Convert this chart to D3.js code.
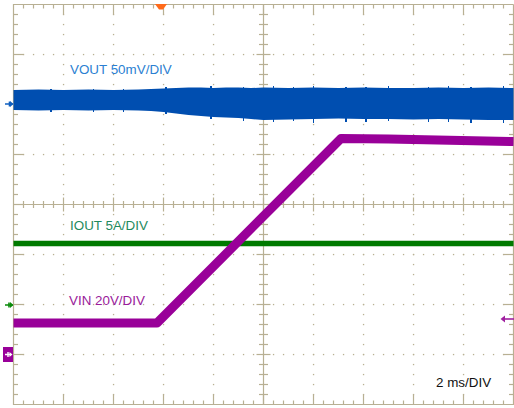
<!DOCTYPE html>
<html>
<head>
<meta charset="utf-8">
<script src="https://cdn.jsdelivr.net/npm/d3@7"></script>
<style>
  html, body { margin: 0; padding: 0; background: #ffffff; }
  svg { display: block; }
  text { font-family: "Liberation Sans", Arial, Helvetica, sans-serif; }
</style>
</head>
<body>
<svg id="chart" width="514" height="408"></svg>
<script>
// ---- data (read from the scope capture) ----
// time in ms from the left edge of the screen (2 ms/DIV, 10 divisions)
const vinTime   = [0, 5.74, 13.1, 15.0, 20];
const vinVolts  = [12.6, 12.6, 86.4, 86.2, 85.2];           // VIN, 20 V/DIV

const ioutTime  = [0, 20];
const ioutAmps  = [6.15, 6.15];                               // IOUT, 5 A/DIV

// VOUT ripple envelope (mV, 50 mV/DIV, AC ripple around its marker)
const voutTime  = [0, 1, 2, 3, 4, 5, 5.5, 6, 6.5, 7, 7.5, 8, 8.5, 9, 9.5, 10, 11, 12, 13, 14, 15, 16, 17, 18, 19, 20];
const voutHigh  = [14, 14.5, 14, 14.5, 14, 14.5, 15, 15.5, 16, 16.5, 16.5, 16, 16.5, 16.5, 16, 16.5, 16, 16.5, 16, 16.5, 16, 16, 16.5, 16, 16.5, 16];
const voutLow   = [-6, -6.5, -6, -6.5, -6, -6.5, -7, -8, -9.5, -11, -12, -13, -13.5, -14, -15, -16, -15.5, -15, -14.5, -15, -15, -15.5, -15, -15.5, -16, -16];

// occasional ripple peaks beyond the envelope (ms, mV)
const voutPeakTime = [1.5, 3.2, 4.4, 6.1, 7.9, 9.2, 10.4, 11.2, 12.0, 13.3, 14.1, 15.0, 16.6, 17.4, 18.3, 19.6];
const voutPeakLow  = [-7.5, -7.5, -8, -9.5, -15, -16.5, -18, -17, -18.5, -17.5, -18, -17, -18, -17.5, -18.5, -19];
const voutPeakHigh = [15.5, 15.5, 15.5, 17.5, 18, 17.5, 18.5, 17.5, 18, 17.5, 17.5, 18, 17.5, 18, 17.5, 18];

const timeDivs  = [0, 2, 4, 6, 8, 10, 12, 14, 16, 18, 20];    // ms grid lines
const vertDivs  = [0, 1, 2, 3, 4, 5, 6, 7, 8];                  // vertical divisions

const labels = [
  { text: "VOUT 50mV/DIV", color: "#2b7fd2" },
  { text: "IOUT 5A/DIV",   color: "#1f8a5e" },
  { text: "VIN 20V/DIV",   color: "#9a1a9a" },
  { text: "2 ms/DIV",      color: "#111111" }
];

// ---- layout ----
const L = 13.5, T = 4.5, DIV = 50;
const R = L + 10 * DIV, B = T + 8 * DIV;
const gridColor = "#b8b093";
const voutColor = "#004eb0";

const svg = d3.select("#chart");

const x = d3.scaleLinear().domain([0, 20]).range([L, R]);
const yDiv = d3.scaleLinear().domain([0, 8]).range([T, B]);
const yVin = d3.scaleLinear().domain([0, 20]).range([354.5, 304.5]);
const yIout = d3.scaleLinear().domain([0, 5]).range([305, 255]);
const yVout = d3.scaleLinear().domain([0, 50]).range([104, 54]);

// ---- graticule ----
const g = svg.append("g");
const dots = [];
for (const t of timeDivs.slice(1, -1)) {
  if (t === 10) continue;
  for (let yy = T + 10; yy < B; yy += 10) dots.push([x(t), yy]);
}
for (const d of vertDivs.slice(1, -1)) {
  if (d === 4) continue;
  for (let xx = L + 10; xx < R; xx += 10) dots.push([xx, yDiv(d)]);
}
g.selectAll("rect.dot").data(dots).join("rect").attr("class", "dot")
  .attr("x", d => d[0] - 0.6).attr("y", d => d[1] - 0.6)
  .attr("width", 1.3).attr("height", 1.3).attr("fill", gridColor);

g.append("path")
  .attr("d", `M${R},${T}H${L}V${B}H${R}V${T}`)
  .attr("fill", "none").attr("stroke", gridColor).attr("stroke-width", 1.2);
const cx = x(10), cy = yDiv(4);
g.append("line").attr("x1", cx).attr("x2", cx).attr("y1", T).attr("y2", B)
  .attr("stroke", gridColor).attr("stroke-width", 1.2);
g.append("line").attr("x1", L).attr("x2", R).attr("y1", cy).attr("y2", cy)
  .attr("stroke", gridColor).attr("stroke-width", 1.2);

const ticks = [];
for (let xx = L + 10; xx < R; xx += 10) {
  const major = Math.abs(((xx - L) / DIV) - Math.round((xx - L) / DIV)) < 1e-6;
  const len = major ? 10 : 4;
  ticks.push([xx, T, xx, T + len]);
  ticks.push([xx, B, xx, B - len]);
  const c = major ? 7 : 3.5;
  ticks.push([xx, cy - c, xx, cy + c]);
}
for (let yy = T + 10; yy < B; yy += 10) {
  const major = Math.abs(((yy - T) / DIV) - Math.round((yy - T) / DIV)) < 1e-6;
  const len = major ? 10 : 4.5;
  ticks.push([L, yy, L + len, yy]);
  ticks.push([R, yy, R - len, yy]);
  const c = major ? 7 : 4.5;
  ticks.push([cx - c, yy, cx + c, yy]);
}
g.selectAll("line.tick").data(ticks).join("line").attr("class", "tick")
  .attr("x1", d => d[0]).attr("y1", d => d[1]).attr("x2", d => d[2]).attr("y2", d => d[3])
  .attr("stroke", gridColor).attr("stroke-width", 1.2);

// ---- traces ----
const vout = voutTime.map((t, i) => ({ t, hi: voutHigh[i], lo: voutLow[i] }));
svg.append("path").datum(vout)
  .attr("d", d3.area().x(d => x(d.t)).y0(d => yVout(d.lo)).y1(d => yVout(d.hi)))
  .attr("fill", voutColor);
const peaks = voutPeakTime.map((t, i) => ({ t, lo: voutPeakLow[i], hi: voutPeakHigh[i] }));
svg.selectAll("line.peak").data(peaks).join("line").attr("class", "peak")
  .attr("x1", d => x(d.t)).attr("x2", d => x(d.t))
  .attr("y1", d => yVout(d.hi)).attr("y2", d => yVout(d.lo))
  .attr("stroke", voutColor).attr("stroke-width", 1.2).attr("shape-rendering", "crispEdges");

const iout = ioutTime.map((t, i) => ({ t, v: ioutAmps[i] }));
svg.append("path").datum(iout)
  .attr("d", d3.line().x(d => x(d.t)).y(d => yIout(d.v)))
  .attr("fill", "none").attr("stroke", "#007a00").attr("stroke-width", 5.5);

const vin = vinTime.map((t, i) => ({ t, v: vinVolts[i] }));
svg.append("path").datum(vin)
  .attr("d", d3.line().x(d => x(d.t)).y(d => yVin(d.v)))
  .attr("fill", "none").attr("stroke", "#990099").attr("stroke-width", 9)
  .attr("stroke-linejoin", "round");

// ---- channel markers ----
svg.append("path").attr("d", `M5,${yVout(0)}H13 M9.5,${yVout(0) - 2.5}V${yVout(0) + 2.5}`)
  .attr("stroke", "#1060c0").attr("stroke-width", 1.6);
svg.append("path").attr("d", `M13.5,${yVout(0)}l-3.5,-3v6z`).attr("fill", "#1060c0");
svg.append("path").attr("d", `M5,${yIout(0)}H13 M9,${yIout(0) - 2.5}V${yIout(0) + 2.5}`)
  .attr("stroke", "#0a8a0a").attr("stroke-width", 1.6);
svg.append("path").attr("d", `M13.5,${yIout(0)}l-3.5,-3v6z`).attr("fill", "#0a8a0a");
svg.append("rect").attr("x", 3).attr("y", yVin(0) - 7.5).attr("width", 10).attr("height", 15)
  .attr("fill", "#990099");
svg.append("path").attr("d", `M5,${yVin(0)}H11 M8,${yVin(0) - 2.5}V${yVin(0) + 2.5}`)
  .attr("stroke", "#ffffff").attr("stroke-width", 1.4);
svg.append("path").attr("d", `M12.5,${yVin(0)}l-3,-2.5v5z`).attr("fill", "#ffffff");
svg.append("path").attr("d", `M504,319H514`).attr("stroke", "#a020a0").attr("stroke-width", 1.6);
svg.append("path").attr("d", `M500.5,319l4.5,-3.5v7z`).attr("fill", "#a020a0");
const tx = x(5.9);
svg.append("path").attr("d", `M${tx - 6},${T - 0.5}H${tx + 6}L${tx + 2},${T + 5}H${tx - 2}Z`)
  .attr("fill", "#ff6a1a");

// ---- labels ----
const labelPos = [[70, 74], [70, 230], [69, 305], [436, 387]];
svg.selectAll("text.lbl").data(labels).join("text").attr("class", "lbl")
  .attr("x", (d, i) => labelPos[i][0]).attr("y", (d, i) => labelPos[i][1])
  .attr("fill", d => d.color).attr("font-size", 13.4)
  .text(d => d.text);
</script>
</body>
</html>
